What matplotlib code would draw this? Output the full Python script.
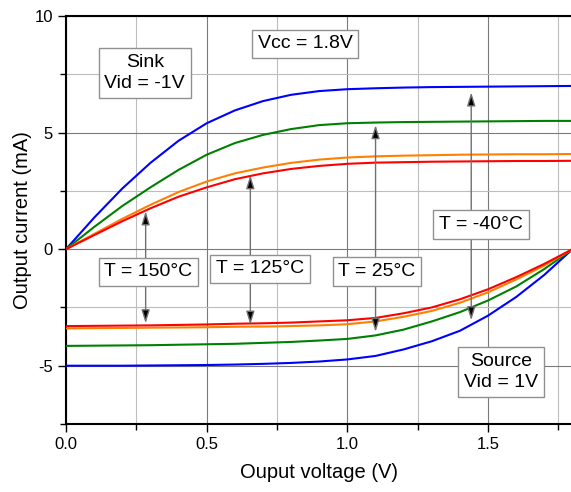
import matplotlib.pyplot as plt
from matplotlib.ticker import MultipleLocator, FuncFormatter

plt.rcParams['font.family'] = ['Liberation Sans', 'DejaVu Sans']

# output voltage sweep (V)
vout = [0.0, 0.1, 0.2, 0.3, 0.4, 0.5, 0.6, 0.7, 0.8, 0.9, 1.0, 1.1, 1.2, 1.3, 1.4, 1.5, 1.6, 1.7, 1.8]

# sink current, Vid = -1V (mA)
sink_m40 = [0, 1.35, 2.6, 3.7, 4.65, 5.4, 5.95, 6.35, 6.62, 6.78, 6.86, 6.9, 6.93, 6.95, 6.96, 6.97, 6.98, 6.99, 7.0]
sink_25 = [0, 0.95, 1.85, 2.65, 3.4, 4.05, 4.55, 4.9, 5.15, 5.32, 5.4, 5.43, 5.45, 5.46, 5.47, 5.48, 5.49, 5.5, 5.5]
sink_125 = [0, 0.65, 1.3, 1.9, 2.45, 2.9, 3.25, 3.5, 3.7, 3.84, 3.93, 3.98, 4.01, 4.03, 4.05, 4.06, 4.07, 4.07, 4.08]
sink_150 = [0, 0.6, 1.2, 1.75, 2.25, 2.65, 3.0, 3.25, 3.44, 3.57, 3.66, 3.71, 3.73, 3.75, 3.76, 3.77, 3.78, 3.78, 3.79]

# source current, Vid = 1V (mA)
src_m40 = [-5.0, -5.0, -5.0, -4.99, -4.98, -4.97, -4.95, -4.92, -4.88, -4.82, -4.73, -4.58, -4.3, -3.95, -3.5, -2.85, -2.05, -1.1, 0]
src_25 = [-4.15, -4.14, -4.13, -4.12, -4.1, -4.08, -4.06, -4.02, -3.98, -3.92, -3.85, -3.7, -3.45, -3.1, -2.7, -2.2, -1.6, -0.85, 0]
src_125 = [-3.4, -3.39, -3.38, -3.37, -3.36, -3.35, -3.33, -3.32, -3.3, -3.27, -3.22, -3.1, -2.9, -2.65, -2.3, -1.85, -1.3, -0.7, 0]
src_150 = [-3.3, -3.29, -3.28, -3.27, -3.25, -3.23, -3.2, -3.18, -3.15, -3.1, -3.05, -2.95, -2.75, -2.5, -2.15, -1.72, -1.2, -0.63, 0]

fig = plt.figure(figsize=(5.71, 4.92), dpi=100)
ax = fig.add_axes([0.1156, 0.1382, 0.8871, 0.8293])

colors = {'m40': '#0000ff', '25': '#008000', '125': '#ff8000', '150': '#ff0000'}
for s, key in [(sink_m40, 'm40'), (sink_25, '25'), (sink_125, '125'), (sink_150, '150'),
               (src_m40, 'm40'), (src_25, '25'), (src_125, '125'), (src_150, '150')]:
    ax.plot(vout, s, color=colors[key], lw=1.5, zorder=3)

ax.set_xlim(0, 1.8)
ax.set_ylim(-7.5, 10)
ax.xaxis.set_major_locator(MultipleLocator(0.5))
ax.xaxis.set_minor_locator(MultipleLocator(0.25))
ax.yaxis.set_major_locator(MultipleLocator(5))
ax.yaxis.set_minor_locator(MultipleLocator(2.5))
ax.yaxis.set_major_formatter(FuncFormatter(lambda v, p: f'{v:g}'))
ax.xaxis.set_major_formatter(FuncFormatter(lambda v, p: f'{v:.1f}'))
ax.tick_params(which='both', direction='out', labelsize=12, width=1)
ax.tick_params(which='major', length=6)
ax.tick_params(which='minor', length=4)
ax.set_axisbelow(True)
ax.grid(True, which='major', color='#7a7a7a', lw=0.8)
ax.grid(True, which='minor', color='#bdbdbd', lw=0.8)
for sp in ax.spines.values():
    sp.set_linewidth(1.5)

ax.set_xlabel('Ouput voltage (V)', fontsize=14.5, labelpad=8)
ax.set_ylabel('Output current (mA)', fontsize=14.5, labelpad=2)

box = dict(boxstyle='square,pad=0.3', fc='white', ec='#909090', lw=1)
ax.text(0.28, 7.55, 'Sink\nVid = -1V', fontsize=14, ha='center', va='center',
        bbox=box, zorder=6, linespacing=1.3)
ax.text(0.85, 8.8, 'Vcc = 1.8V', fontsize=14, ha='center', va='center', bbox=box, zorder=6)
ax.text(1.545, -5.28, 'Source\nVid = 1V', fontsize=14, ha='center', va='center',
        bbox=box, zorder=6, linespacing=1.3)

# temperature labels with arrows pointing to the sink and source curves
temp_labels = ['T = 150°C', 'T = 125°C', 'T = 25°C', 'T = -40°C']
label_pos = [(0.293, -0.98), (0.69, -0.85), (1.105, -0.97), (1.475, 1.07)]
arrow_x = [0.283, 0.655, 1.10, 1.44]
tip_up = [1.62, 3.17, 5.32, 6.72]
tip_down = [-3.18, -3.24, -3.55, -3.05]

for lab, (tx, ty), axx, up, dn in zip(temp_labels, label_pos, arrow_x, tip_up, tip_down):
    for tip in (up, dn):
        ax.annotate('', xy=(axx, tip), xytext=(axx, ty),
                    arrowprops=dict(arrowstyle='-|>,head_length=0.8,head_width=0.25',
                                    ec='#707070', fc='black', lw=1, shrinkA=0, shrinkB=0,
                                    mutation_scale=10),
                    zorder=4)
    ax.text(tx, ty, lab, fontsize=14, ha='center', va='center', bbox=box, zorder=6)

fig.savefig('out.png', dpi=100)
